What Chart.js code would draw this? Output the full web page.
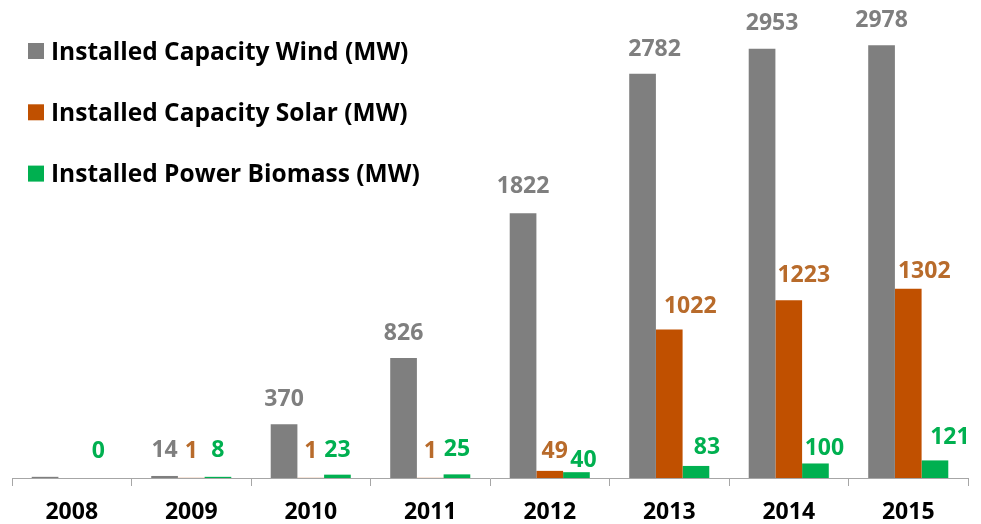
<!DOCTYPE html>
<html><head><meta charset="utf-8">
<script src="https://cdn.jsdelivr.net/npm/chart.js@4"></script>
<style>html,body{margin:0;padding:0;background:#fff;} canvas{display:block}</style>
</head><body>
<canvas id="c" width="981" height="524" style="width:981px;height:524px"></canvas>
<script>
const years = ['2008','2009','2010','2011','2012','2013','2014','2015'];
const windMW = [8, 14, 370, 826, 1822, 2782, 2953, 2978];
const solarMW = [null, 1, 1, 1, 49, 1022, 1223, 1302];
const biomassMW = [0, 8, 23, 25, 40, 83, 100, 121];
const windLabelShown = [false, true, true, true, true, true, true, true];
const seriesNames = ['Installed Capacity Wind (MW)', 'Installed Capacity Solar (MW)', 'Installed Power Biomass (MW)'];
const yMin = 0, yMax = 3000;

const barColors = ['#7F7F7F', '#C05000', '#00B050'];
const labelColors = ['#7F7F7F', '#B86B2B', '#00B050'];
const FONT = '"Open Sans", Lato, sans-serif';

// manual nudges of the value labels (px, relative to the bar top)
const labelDx = [[0,0,0,0,0,12,10,0],[0,0,0,0,5,21,15,16],[0,0,0,0,7,11,9,15]];
const labelGap = [[19,19,18,18,20,18,19,18],[19,20,20,20,13,16,18,11],[20,20,18,18,5,12,8,16]];
const labelShown = [windLabelShown, solarMW.map(v => v != null), biomassMW.map(v => v != null)];

const valueLabels = {
  id: 'valueLabels',
  afterDatasetsDraw(chart) {
    const ctx = chart.ctx;
    ctx.save();
    ctx.font = 'bold 23px ' + FONT;
    ctx.textAlign = 'center';
    ctx.textBaseline = 'alphabetic';
    chart.data.datasets.forEach((ds, i) => {
      const meta = chart.getDatasetMeta(i);
      meta.data.forEach((bar, j) => {
        const v = ds.data[j];
        if (v == null || !labelShown[i][j]) return;
        ctx.fillStyle = labelColors[i];
        ctx.fillText(String(v), bar.x + labelDx[i][j], bar.y - labelGap[i][j]);
      });
    });
    ctx.restore();
  }
};

const legendBlock = {
  id: 'legendBlock',
  afterDraw(chart) {
    const ctx = chart.ctx;
    ctx.save();
    ctx.font = 'bold 24.5px ' + FONT;
    ctx.textAlign = 'left';
    ctx.textBaseline = 'alphabetic';
    chart.data.datasets.forEach((ds, i) => {
      const yc = 51 + i * 61.3;
      ctx.fillStyle = ds.backgroundColor;
      ctx.fillRect(28, yc - 8, 16, 16);
      ctx.fillStyle = '#000';
      ctx.fillText(ds.label, 51, yc + 8.5);
    });
    ctx.restore();
  }
};

new Chart(document.getElementById('c'), {
  type: 'bar',
  data: {
    labels: years,
    datasets: [
      { label: seriesNames[0], data: windMW, backgroundColor: barColors[0] },
      { label: seriesNames[1], data: solarMW, backgroundColor: barColors[1] },
      { label: seriesNames[2], data: biomassMW, backgroundColor: barColors[2] }
    ]
  },
  options: {
    responsive: false,
    animation: false,
    devicePixelRatio: 1,
    categoryPercentage: 0.67,
    barPercentage: 1,
    layout: { padding: { left: 12, right: 13, top: 42, bottom: 0 } },
    plugins: { legend: { display: false }, tooltip: { enabled: false } },
    scales: {
      x: {
        grid: { offset: true, drawOnChartArea: false, drawTicks: true, tickLength: 8, color: '#A6A6A6', lineWidth: 1 },
        border: { display: true, color: '#A6A6A6', width: 1 },
        ticks: { color: '#000', font: { family: FONT, size: 23, weight: 'bold' }, padding: 13, maxRotation: 0 },
        afterFit(scale) { scale.height = 46; }
      },
      y: { display: false, min: yMin, max: yMax }
    }
  },
  plugins: [valueLabels, legendBlock]
});
</script>
</body></html>
